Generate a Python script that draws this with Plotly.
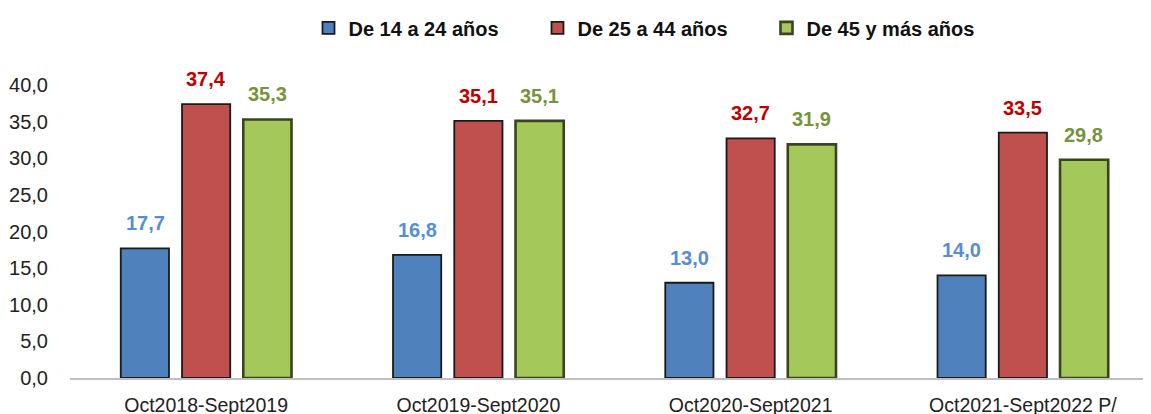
import plotly.graph_objects as go

# Periods and values by age group
periods = ["Oct2018-Sept2019", "Oct2019-Sept2020", "Oct2020-Sept2021", "Oct2021-Sept2022 P/"]
series_names = ["De 14 a 24 años", "De 25 a 44 años", "De 45 y más años"]
age_14_24 = [17.7, 16.8, 13.0, 14.0]
age_25_44 = [37.4, 35.1, 32.7, 33.5]
age_45_up = [35.3, 35.1, 31.9, 29.8]
y_ticks = [0, 5, 10, 15, 20, 25, 30, 35, 40]

fill_colors = ["#4F81BD", "#C0504D", "#A4C95A"]
line_colors = ["#1a1a1a", "#1a1a1a", "#3A4520"]
line_widths = [1.8, 1.8, 2.6]
label_colors = ["#558ED5", "#C00000", "#77933C"]
bar_shift = [-61, 0, 61]  # pixel offset of each bar inside its group, for labels

FONT = "Liberation Sans, Arial"

fig = go.Figure()

all_series = [age_14_24, age_25_44, age_45_up]
for name, vals, fc, lc, lw in zip(series_names, all_series, fill_colors, line_colors, line_widths):
    fig.add_trace(go.Bar(
        x=periods, y=vals, name=name,
        marker=dict(color=fc, line=dict(color=lc, width=lw)),
    ))

# value labels above each bar
for vals, tc, dx in zip(all_series, label_colors, bar_shift):
    for p, v in zip(periods, vals):
        fig.add_annotation(
            x=p, y=v, xref="x", yref="y", xshift=dx, yshift=12,
            text=f"{v:.1f}".replace(".", ","), showarrow=False, yanchor="bottom",
            font=dict(color=tc, size=20, family=FONT, weight="bold"),
        )

fig.update_layout(
    width=1151, height=414,
    margin=dict(l=62, r=0, t=72, b=44),
    paper_bgcolor="white", plot_bgcolor="white",
    separators=",.",
    barmode="group", bargap=0.325, bargroupgap=0.213,
    font=dict(family=FONT, size=19, color="#222222"),
    legend=dict(orientation="h", x=0.219, xanchor="left", y=1.195, yanchor="middle",
                font=dict(size=20, family=FONT, weight="bold", color="#111111"),
                itemwidth=30, entrywidth=184, entrywidthmode="pixels",
                traceorder="normal"),
    showlegend=True,
)

fig.update_xaxes(showgrid=False, showline=True, linecolor="#BFBFBF", linewidth=1.5,
                 ticks="", tickfont=dict(size=19.5), ticklabelstandoff=9)
fig.update_yaxes(range=[0, 40], tickvals=y_ticks, tickformat=".1f", showgrid=False,
                 zeroline=False, showline=False, ticks="", ticklabelstandoff=21,
                 tickfont=dict(size=20))

fig.write_html("out.html")
